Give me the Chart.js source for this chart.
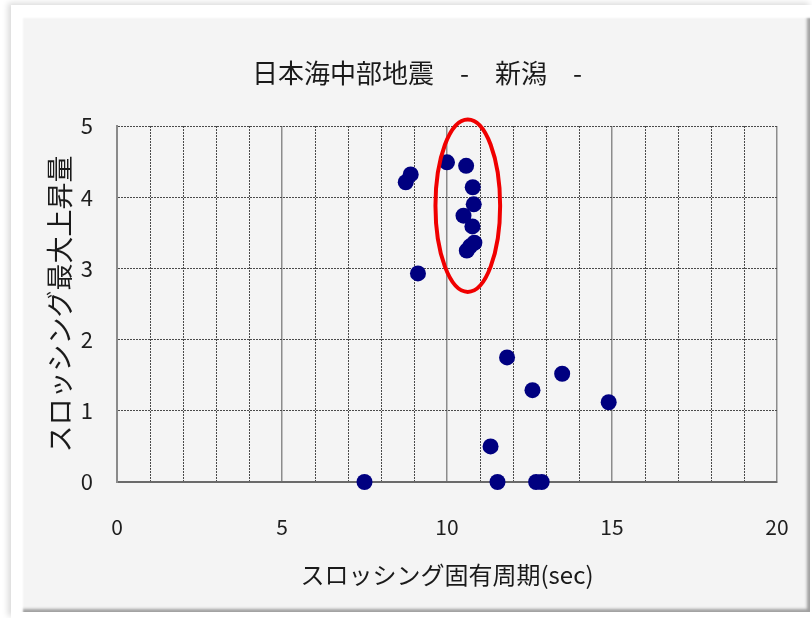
<!DOCTYPE html>
<html>
<head>
<meta charset="utf-8">
<script src="https://cdn.jsdelivr.net/npm/chart.js@4.4.1/dist/chart.umd.min.js"></script>
<style>
html, body { margin: 0; padding: 0; background: #fff; width: 812px; height: 618px; overflow: hidden }
.outer { position: absolute; left: 11px; top: 5px; width: 801px; height: 613px; background: #fff; box-shadow: -3px -2px 6px rgba(0,0,0,.15) }
.panel { position: absolute; left: 20px; top: 15px; width: 790px; height: 597px; background: #f4f4f4;
  box-shadow: inset 4px 4px 2px -1px #fff, inset -4px -4px 3px -1px #a0a0a0 }
#chart { position: absolute; left: 0; top: 0 }
</style>
</head>
<body>
<div class="outer"></div>
<div class="panel"></div>
<canvas id="chart" width="812" height="618"></canvas>
<script>
const chartTitle = '日本海中部地震　-　新潟　-'
const xTitle = 'スロッシング固有周期(sec)'
const yTitle = 'スロッシング最大上昇量'

// period (sec) / max sloshing rise
const periods = [7.5, 11.53, 12.7, 12.87, 11.32, 11.82, 12.59, 13.49, 14.9, 9.12,
  8.75, 8.9, 10.0, 10.58, 10.78, 10.81, 10.5, 10.77, 10.83, 10.7, 10.6]
const rises = [0, 0, 0, 0, 0.5, 1.75, 1.29, 1.52, 1.12, 2.93,
  4.21, 4.32, 4.49, 4.44, 4.14, 3.9, 3.74, 3.59, 3.36, 3.31, 3.25]

const xRange = [0, 20], xMajor = 5, xMinor = 1
const yRange = [0, 5], yStep = 1

// red ring around the cluster, in data units
const ring = { cx: 10.63, cy: 3.88, rx: 0.98, ry: 1.21 }

const FONT = '"Noto Sans CJK JP", "Noto Sans", sans-serif'
Chart.defaults.font.family = FONT
Chart.defaults.color = '#1e1e1e'

const titlePlugin = {
  id: 'panelTitle',
  afterDraw(chart) {
    const ctx = chart.ctx
    ctx.save()
    ctx.font = '26px ' + FONT
    ctx.fillStyle = '#1a1a1a'
    ctx.textAlign = 'center'
    ctx.textBaseline = 'middle'
    ctx.fillText(chartTitle, 417, 73)
    ctx.restore()
  }
}

const ringPlugin = {
  id: 'ring',
  afterDatasetsDraw(chart) {
    const { x, y } = chart.scales
    const cx = x.getPixelForValue(ring.cx), cy = y.getPixelForValue(ring.cy)
    const rx = Math.abs(x.getPixelForValue(ring.cx + ring.rx) - cx)
    const ry = Math.abs(y.getPixelForValue(ring.cy + ring.ry) - cy)
    const ctx = chart.ctx
    ctx.save()
    ctx.strokeStyle = '#f00000'
    ctx.lineWidth = 4
    ctx.beginPath()
    ctx.ellipse(cx, cy, rx, ry, 0, 0, Math.PI * 2)
    ctx.stroke()
    ctx.restore()
  }
}

new Chart(document.getElementById('chart'), {
  type: 'scatter',
  data: {
    datasets: [{
      data: periods.map((p, i) => ({ x: p, y: rises[i] })),
      backgroundColor: '#000080',
      borderColor: '#000080',
      borderWidth: 0,
      pointRadius: 8,
      pointHoverRadius: 8,
      clip: false
    }]
  },
  plugins: [titlePlugin, ringPlugin],
  options: {
    responsive: false,
    devicePixelRatio: 1,
    animation: false,
    layout: { padding: { top: 126, left: 20, right: 35, bottom: 18.6 } },
    plugins: { legend: { display: false }, tooltip: { enabled: false } },
    scales: {
      x: {
        type: 'linear', position: 'bottom', min: xRange[0], max: xRange[1],
        ticks: { stepSize: xMajor, font: { size: 21 }, padding: 6, color: '#1e1e1e' },
        grid: { color: '#8c8c8c', lineWidth: 1.5, drawTicks: true, tickLength: 26, tickColor: 'rgba(0,0,0,0)' },
        border: { display: true, color: '#6a6a6a', width: 2 },
        title: { display: true, text: xTitle, font: { size: 24 }, color: '#1a1a1a', padding: { top: 21, bottom: 10 } },
        afterFit: s => { s.height = 117.4 }
      },
      x2: {
        type: 'linear', position: 'bottom', min: xRange[0], max: xRange[1],
        ticks: { display: false, stepSize: xMinor },
        grid: { color: c => c.tick.value % xMajor === 0 ? 'rgba(0,0,0,0)' : '#4a4a4a', lineWidth: 1, drawTicks: false },
        border: { display: false, dash: [2, 1] },
        afterFit: s => { s.height = 0 }
      },
      y: {
        min: yRange[0], max: yRange[1],
        ticks: { stepSize: yStep, font: { size: 22 }, padding: 24, color: '#1e1e1e' },
        grid: { color: '#4a4a4a', lineWidth: 1, drawTicks: false },
        border: { display: true, color: '#8a8a8a', width: 2, dash: [2, 1] },
        title: { display: true, text: yTitle, font: { size: 27 }, color: '#1a1a1a', padding: { top: 23.8, bottom: 0 } },
        afterFit: s => { s.width = 97 }
      }
    }
  }
})
</script>
</body>
</html>
